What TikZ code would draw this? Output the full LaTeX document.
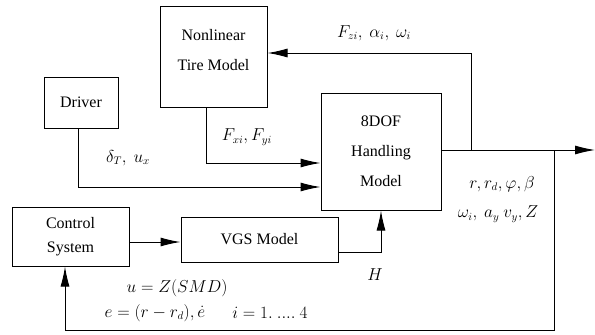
\documentclass[tikz,border=0pt]{standalone}
\usepackage{fontspec}
\setmainfont{Liberation Serif}
\usetikzlibrary{arrows.meta,calc}
\begin{document}
\begin{tikzpicture}[x=1pt,y=-1pt,
 box/.style={draw,line width=1pt,align=center,inner sep=0pt},
 lbl/.style={inner sep=0pt,font=\fontsize{16}{19}\selectfont},
 arr/.style={-{Latex[length=20pt,width=9pt]},line width=1pt},
 ln/.style={line width=1pt}]
\useasboundingbox (0,0) rectangle (595,335);
% boxes
\node[box,minimum width=107pt,minimum height=101pt,font=\fontsize{16}{30}\selectfont] (tire) at (213.5,56.5) {Nonlinear\\Tire Model\\[-17pt]\mbox{}};
\node[box,minimum width=74pt,minimum height=51pt,font=\fontsize{16}{19}\selectfont] (driver) at (81,102.5) {Driver};
\node[box,minimum width=120pt,minimum height=117pt,font=\fontsize{16}{30}\selectfont] (dof) at (381,151.5) {8DOF\\Handling\\Model};
\node[box,minimum width=117pt,minimum height=59pt,font=\fontsize{16}{24}\selectfont] (ctrl) at (70.5,236.5) {Control\\System};
\node[box,minimum width=157pt,minimum height=45pt,font=\fontsize{16}{19}\selectfont] (vgs) at (259.5,239.5) {VGS Model};
% helper coordinates
\coordinate (jtop) at (471,150);
\coordinate (jbot) at (554,150);
\coordinate (outc) at (595,150);
\coordinate (ytop) at (471,53);
\coordinate (ybot) at (554,330);
\coordinate (xfb) at (65,330);
\coordinate (ytire) at (206,163);
\coordinate (ydrv) at (78,187);
\coordinate (yc) at (0,242);
\coordinate (yv) at (381,252);
% connectors
\draw[arr] (dof.east |- outc) -- (outc);
\draw[arr] (jtop) -- (ytop) -- (tire.east |- ytop);
\draw[arr] (jbot) -- (ybot) -- (xfb) -- (ctrl.south -| xfb);
\draw[arr] (tire.south -| ytire) -- (ytire) -- (dof.west |- ytire);
\draw[arr] (driver.south -| ydrv) -- (ydrv) -- (dof.west |- ydrv);
\draw[arr] (ctrl.east |- yc) -- (vgs.west |- yc);
\draw[arr] (vgs.east |- yv) -- (yv) -- (dof.south -| yv);
% labels
\node[lbl] (l1) at (374,33) {$F_{zi},\ \alpha_i,\ \omega_i$};
\node[lbl] (l2) at (247,137) {$F_{xi},F_{yi}$};
\node[lbl] (l3) at (128,158) {$\delta_T,\ u_x$};
\node[lbl] (l4) at (502,184) {$r,r_d,\varphi,\beta$};
\node[lbl] (l5) at (498,214) {$\omega_i,\ a_y\ v_y,Z$};
\node[lbl] (l6) at (375,275) {$H$};
\node[lbl] (l7) at (177,288) {$u=Z(SMD)$};
\node[lbl] (l8) at (155,313) {$e=(r-r_d),\dot e$};
\node[lbl] (l9) at (270,313) {$i=1.\ ....\ 4$};
\end{tikzpicture}
\end{document}
